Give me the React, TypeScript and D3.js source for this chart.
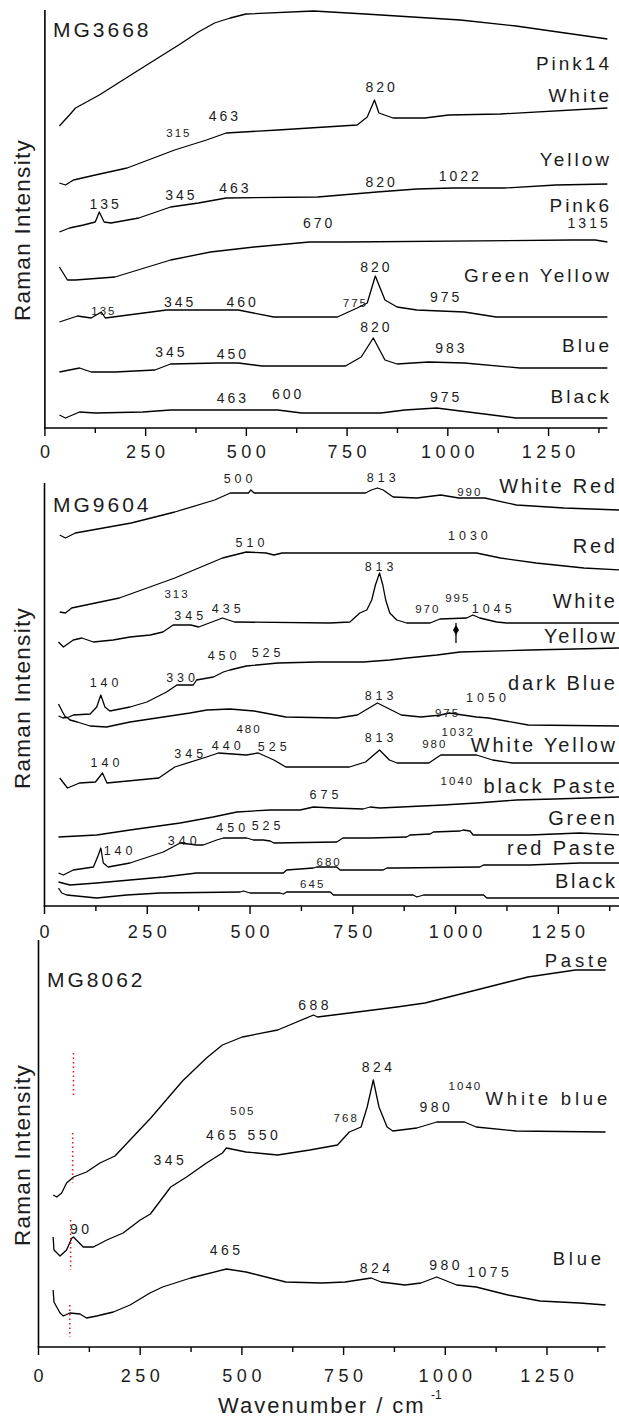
import React from 'react';
import * as d3 from 'd3';

type Pt = [number, number];
type Lbl = [string, number, number];

// ---------- shared ----------
const tickValues = [0, 125, 250, 375, 500, 625, 750, 875, 1000, 1125, 1250, 1375];
const tickLabels = [0, 250, 500, 750, 1000, 1250];
const xTitle = 'Wavenumber / cm';
const yTitle = 'Raman Intensity';

// ---------- panel 1 : MG3668 ----------
const p1Pink14: Pt[] = [[36,302],[45,306],[61,313],[76,320],[135,333],[233,358],[332,383],[381,396],[421,405],[460,410],[499,414],[667,417],[795,414],[1031,408],[1169,402],[1396,389]];
const p1White: Pt[] = [[36,245],[51,243],[71,248],[125,253],[204,260],[322,278],[401,288],[450,295],[578,298],[696,301],[775,303],[800,311],[818,328],[829,315],[864,310],[943,310],[1002,313],[1130,314],[1396,320]];
const p1Yellow: Pt[] = [[36,196],[61,200],[96,203],[125,206],[135,216],[147,206],[164,205],[233,210],[312,221],[381,225],[450,230],[677,231],[824,236],[923,239],[1012,240],[1140,240],[1268,243],[1396,244]];
const p1Pink6: Pt[] = [[36,161],[56,148],[76,148],[174,151],[312,168],[411,176],[519,181],[657,186],[746,186],[1307,188],[1366,188],[1396,186]];
const p1GreenYellow: Pt[] = [[36,106],[81,112],[115,110],[140,116],[150,110],[302,118],[480,118],[568,111],[726,111],[775,120],[800,125],[820,152],[844,128],[874,121],[923,118],[1041,116],[1120,111],[1396,111]];
const p1Blue: Pt[] = [[36,56],[86,60],[115,56],[174,56],[273,58],[312,64],[430,65],[480,65],[539,62],[746,62],[785,71],[815,90],[844,68],[874,64],[952,66],[1041,65],[1179,60],[1396,60]];
const p1Black: Pt[] = [[36,13],[51,10],[86,16],[125,15],[243,16],[312,18],[578,18],[637,15],[834,15],[893,18],[972,20],[1051,16],[1169,10],[1396,10]];
const p1Names: Lbl[] = [['Pink14',1400,358],['White',1400,326],['Yellow',1400,262],['Pink6',1400,216],['Green Yellow',1400,146],['Blue',1400,76],['Black',1400,25]];
const p1Peaks: Lbl[] = [['820',832,336],['463',443,307],['345',335,228],['463',469,235],['820',832,241],['1022',1027,247],['135',147,219],['670',677,200],['1315',1347,200],['820',819,156],['345',332,121],['460',487,121],['975',992,126],['820',819,96],['345',310,71],['450',463,69],['983',1005,75],['463',463,25],['600',600,29],['975',992,26]];
const p1MinorPeaks: Lbl[] = [['315',330,291],['775',768,121],['135',144,113]];

// ---------- panel 2 : MG9604 ----------
const p2WhiteRed: Pt[] = [[37,371],[51,368],[75,373],[211,383],[317,394],[414,406],[452,413],[496,413],[502,416],[510,413],[781,413],[795,416],[810,418],[824,416],[848,409],[906,408],[964,411],[1008,408],[1071,408],[1148,401],[1264,398],[1399,396]];
const p2Red: Pt[] = [[37,294],[51,293],[66,298],[182,308],[317,328],[433,348],[491,354],[539,353],[558,351],[578,353],[1051,353],[1109,348],[1196,343],[1312,338],[1399,336]];
const p2White: Pt[] = [[34,264],[46,259],[70,266],[91,268],[119,264],[167,266],[208,269],[257,271],[288,274],[313,281],[356,281],[375,279],[433,288],[462,284],[694,283],[743,284],[767,293],[784,296],[796,306],[805,321],[815,333],[823,321],[830,306],[840,293],[857,286],[881,283],[938,283],[962,287],[1027,288],[1042,291],[1059,288],[1100,284],[1124,283],[1399,283]];
const p2Yellow: Pt[] = [[34,202],[44,194],[52,188],[60,189],[70,191],[111,192],[127,199],[137,211],[147,199],[159,195],[208,199],[249,204],[297,214],[322,221],[362,221],[370,226],[411,229],[435,234],[451,236],[491,240],[568,243],[665,244],[775,244],[840,246],[882,248],[955,251],[1011,254],[1181,256],[1399,258]];
const p2DarkBlue: Pt[] = [[34,190],[45,188],[54,189],[62,186],[80,184],[111,180],[151,179],[208,184],[289,189],[354,193],[395,196],[451,197],[510,195],[587,189],[713,188],[761,191],[810,203],[868,191],[916,189],[964,191],[984,193],[1051,189],[1080,188],[1177,181],[1399,180]];
const p2WhiteYellow: Pt[] = [[37,128],[56,118],[85,123],[124,124],[141,133],[152,123],[278,128],[317,139],[394,149],[423,153],[491,151],[520,153],[558,146],[587,139],[742,139],[781,144],[815,156],[839,146],[858,143],[935,143],[964,151],[1051,151],[1090,146],[1138,143],[1399,143]];
const p2BlackPaste: Pt[] = [[34,69],[127,71],[208,76],[330,83],[410,89],[468,94],[549,96],[622,96],[654,99],[703,98],[775,97],[792,99],[816,98],[970,101],[1051,103],[1148,106],[1240,107],[1399,109]];
const p2Green: Pt[] = [[34,33],[46,31],[70,36],[119,39],[131,51],[137,58],[143,43],[155,39],[208,43],[289,54],[330,63],[370,61],[386,61],[419,66],[435,68],[492,68],[508,66],[532,66],[549,65],[558,63],[711,64],[726,68],[792,68],[881,69],[889,71],[938,72],[946,74],[1011,75],[1018,76],[1035,75],[1043,71],[1181,71],[1302,73],[1399,71]];
const p2RedPaste: Pt[] = [[34,24],[62,21],[127,23],[208,26],[289,29],[370,33],[451,33],[549,33],[581,33],[589,36],[654,38],[662,39],[711,39],[719,36],[824,36],[833,38],[857,38],[1059,39],[1068,41],[1181,41],[1302,43],[1399,43]];
const p2Black: Pt[] = [[34,18],[42,13],[54,11],[127,8],[200,11],[281,13],[476,14],[484,15],[500,13],[573,13],[581,12],[589,14],[695,14],[703,11],[897,11],[906,9],[922,11],[1068,11],[1076,8],[1181,8],[1399,8]];
const p2Arrow: Pt[] = [[1001,283],[1001,263]];
const p2Names: Lbl[] = [['White Red',1400,413],['Red',1400,353],['White',1400,298],['Yellow',1400,263],['dark Blue',1400,216],['White Yellow',1400,154],['black Paste',1400,113],['Green',1400,81],['red Paste',1400,51],['Black',1400,18]];
const p2Peaks: Lbl[] = [['500',471,423],['813',819,424],['510',500,359],['1030',1030,366],['813',814,335],['345',351,286],['435',442,293],['1045',1088,293],['450',432,246],['525',539,249],['330',331,224],['140',145,219],['813',814,206],['1050',1074,204],['813',814,164],['440',442,156],['525',554,155],['345',351,148],['140',147,139],['675',680,107],['450',453,74],['525',539,76],['340',335,61],['140',179,51]];
const p2MinorPeaks: Lbl[] = [['990',1032,410],['313',320,308],['970',930,293],['995',1003,304],['975',978,189],['480',495,173],['1032',1004,170],['980',947,158],['1040',1002,121],['680',690,40],['645',650,18]];

// ---------- panel 3 : MG8062 ----------
const p3Paste: Pt[] = [[36,152],[45,150],[57,154],[69,164],[86,170],[118,175],[151,184],[188,191],[225,207],[276,229],[354,266],[413,289],[452,302],[501,310],[588,317],[676,332],[686,330],[784,335],[881,340],[950,344],[1057,355],[1154,365],[1203,370],[1320,377],[1394,377]];
const p3WhiteBlue: Pt[] = [[36,110],[38,97],[53,91],[69,97],[82,109],[86,110],[110,100],[135,100],[168,107],[208,114],[250,127],[275,133],[325,160],[364,170],[413,184],[452,194],[462,199],[510,195],[588,192],[667,197],[735,202],[764,215],[793,220],[808,240],[823,267],[837,240],[857,220],[871,216],[930,219],[979,225],[1047,225],[1076,220],[1174,216],[1394,215]];
const p3Blue: Pt[] = [[36,57],[38,45],[53,34],[61,31],[77,34],[102,33],[118,29],[143,31],[184,35],[225,42],[274,54],[305,60],[374,69],[462,78],[510,75],[608,65],[696,64],[754,65],[818,69],[842,65],[901,62],[940,64],[979,70],[1028,62],[1076,60],[1154,52],[1233,46],[1330,44],[1394,42]];
const p3RefLines: [number, number, number][] = [[86,294,250],[84,214,164],[79,127,77],[77,42,10]];
const p3Names: Lbl[] = [['Paste',1398,380],['White blue',1398,242],['Blue',1383,82]];
const p3Peaks: Lbl[] = [['688',676,337],['824',832,275],['980',974,235],['465',449,207],['550',551,207],['345',320,182],['90',101,113],['465',458,92],['824',827,74],['980',998,77],['1075',1105,70]];
const p3MinorPeaks: Lbl[] = [['1040',1047,257],['505',500,232],['768',754,225]];

const FONT = '"Liberation Sans", Arial, Helvetica, sans-serif';
const INK = '#1c1c1c';

type PanelCfg = {
  title: string; xr: [number, number]; top: number; bottom: number; ymax: number;
  titleXY: [number, number]; yTitleCY: number;
  series: Pt[][]; names: Lbl[]; peaks: Lbl[]; minor: Lbl[];
  nameSize: number; nameLs: number; peakSize: number; peakLs: number;
  tickBase: number; axisEnd: number;
};

const panels: PanelCfg[] = [
  { title: 'MG3668', xr: [44.9, 609], top: 10, bottom: 428, ymax: 418, titleXY: [53, 37], yTitleCY: 230,
    series: [p1Pink14, p1White, p1Yellow, p1Pink6, p1GreenYellow, p1Blue, p1Black],
    names: p1Names, peaks: p1Peaks, minor: p1MinorPeaks, nameSize: 19, nameLs: 3, peakSize: 14, peakLs: 3,
    tickBase: 458, axisEnd: 1396 },
  { title: 'MG9604', xr: [44.5, 620], top: 483, bottom: 906, ymax: 423, titleXY: [53, 512], yTitleCY: 698,
    series: [p2WhiteRed, p2Red, p2White, p2Yellow, p2DarkBlue, p2WhiteYellow, p2BlackPaste, p2Green, p2RedPaste, p2Black],
    names: p2Names, peaks: p2Peaks, minor: p2MinorPeaks, nameSize: 20, nameLs: 2.8, peakSize: 12.5, peakLs: 4,
    tickBase: 938, axisEnd: 1400 },
  { title: 'MG8062', xr: [38.5, 608], top: 940, bottom: 1347, ymax: 407, titleXY: [47, 987], yTitleCY: 1155,
    series: [p3Paste, p3WhiteBlue, p3Blue],
    names: p3Names, peaks: p3Peaks, minor: p3MinorPeaks, nameSize: 18.5, nameLs: 3.8, peakSize: 14, peakLs: 3.5,
    tickBase: 1382, axisEnd: 1394 },
];

function Panel({ cfg, idx }: { cfg: PanelCfg; idx: number }) {
  const x = d3.scaleLinear().domain([0, 1400]).range(cfg.xr);
  const y = d3.scaleLinear().domain([0, cfg.ymax]).range([cfg.bottom, cfg.top]);
  const line = d3.line<Pt>().x(d => x(d[0])).y(d => y(d[1]));
  const tickLs = 4.5;
  return (
    <g>
      {cfg.series.map((s, i) => (
        <path key={i} d={line(s) || ''} fill="none" stroke="#000" strokeWidth={1.3} strokeLinejoin="round" />
      ))}
      {/* axes */}
      <line x1={x(0)} x2={x(0)} y1={cfg.top} y2={cfg.bottom} stroke="#000" strokeWidth={1.6} />
      <line x1={x(0) - 0.8} x2={x(cfg.axisEnd)} y1={cfg.bottom} y2={cfg.bottom} stroke="#000" strokeWidth={1.6} />
      {tickValues.map(t => (
        <line key={t} x1={x(t)} x2={x(t)} y1={cfg.bottom} y2={cfg.bottom + (t % 250 === 0 ? 8 : 5)} stroke="#000" strokeWidth={1.4} />
      ))}
      {tickLabels.map(t => (
        <text key={t} x={x(t) + tickLs / 2} y={cfg.tickBase} textAnchor="middle" fontSize={18} letterSpacing={tickLs} fill={INK} fontFamily={FONT}>{t}</text>
      ))}
      {/* titles */}
      <text x={cfg.titleXY[0]} y={cfg.titleXY[1]} fontSize={21} letterSpacing={3} fill={INK} fontFamily={FONT}>{cfg.title}</text>
      <text transform={`translate(30,${cfg.yTitleCY}) rotate(-90)`} textAnchor="middle" fontSize={22.5} letterSpacing={1.3} fill={INK} fontFamily={FONT}>{yTitle}</text>
      {cfg.names.map((n, i) => (
        <text key={i} x={Math.min(x(n[1]), 615) + cfg.nameLs} y={y(n[2])} textAnchor="end" fontSize={cfg.nameSize} letterSpacing={cfg.nameLs} fill={INK} fontFamily={FONT}>{n[0]}</text>
      ))}
      {cfg.peaks.map((p, i) => (
        <text key={i} x={x(p[1]) + cfg.peakLs / 2} y={y(p[2])} textAnchor="middle" fontSize={cfg.peakSize} letterSpacing={cfg.peakLs} fill={INK} fontFamily={FONT}>{p[0]}</text>
      ))}
      {cfg.minor.map((p, i) => (
        <text key={i} x={x(p[1]) + 1} y={y(p[2])} textAnchor="middle" fontSize={11.5} letterSpacing={2} fill={INK} fontFamily={FONT}>{p[0]}</text>
      ))}
      {idx === 1 && (
        <g>
          <line x1={x(p2Arrow[0][0])} x2={x(p2Arrow[1][0])} y1={y(p2Arrow[0][1])} y2={y(p2Arrow[1][1])} stroke="#000" strokeWidth={1.3} />
          <path d={`M${x(p2Arrow[0][0])},${y(p2Arrow[0][1]) + 2} l-3,5 l3,5 l3,-5 z`} fill="#000" />
        </g>
      )}
      {idx === 2 && p3RefLines.map((r, i) => (
        <line key={i} x1={x(r[0])} x2={x(r[0])} y1={y(r[1])} y2={y(r[2])} stroke="#e02020" strokeWidth={1.6} strokeDasharray="1.5,3" />
      ))}
      {idx === 2 && (
        <g>
          <text x={218} y={1413} fontSize={22} letterSpacing={2} fill={INK} fontFamily={FONT}>{xTitle}</text>
          <text x={431} y={1399} fontSize={12} fill={INK} fontFamily={FONT}>-1</text>
        </g>
      )}
    </g>
  );
}

export default function App() {
  return (
    <div style={{ position: 'absolute', left: 0, top: 0, width: 619, height: 1423, background: '#fff' }}>
      <svg width={619} height={1423} viewBox="0 0 619 1423">
        <rect width={619} height={1423} fill="#fff" />
        {panels.map((p, i) => <Panel key={i} cfg={p} idx={i} />)}
      </svg>
    </div>
  );
}
